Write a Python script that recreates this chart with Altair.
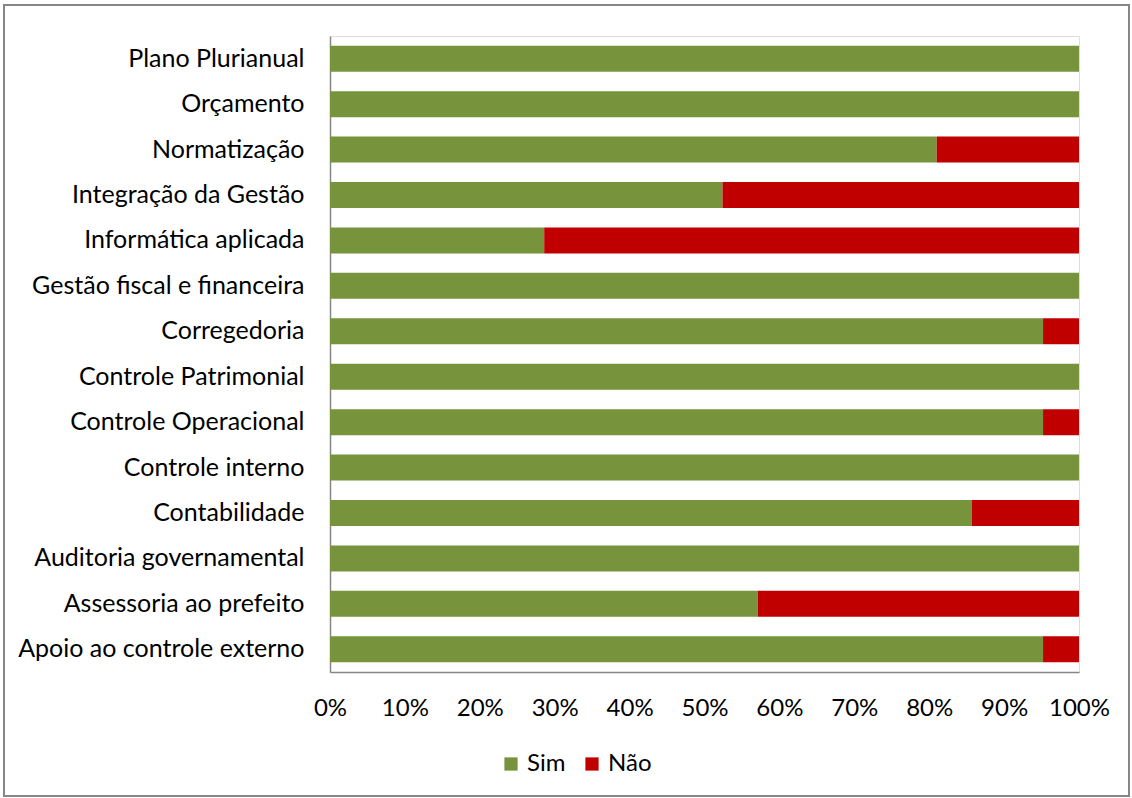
import altair as alt
import pandas as pd

categories = [
    "Plano Plurianual", "Orçamento", "Normatização", "Integração da Gestão",
    "Informática aplicada", "Gestão fiscal e financeira", "Corregedoria",
    "Controle Patrimonial", "Controle Operacional", "Controle interno",
    "Contabilidade", "Auditoria governamental", "Assessoria ao prefeito",
    "Apoio ao controle externo",
]
sim = [100.0, 100.0, 81.0, 52.4, 28.6, 100.0, 95.2, 100.0, 95.2, 100.0, 85.7, 100.0, 57.1, 95.2]
nao = [round(100 - s, 1) for s in sim]

rows = []
for c, s, n in zip(categories, sim, nao):
    rows.append({"cat": c, "resp": "Sim", "val": s, "ord": 0})
    rows.append({"cat": c, "resp": "Não", "val": n, "ord": 1})
df = pd.DataFrame(rows)

FONT = "Lato"
FS = 24

bars = alt.Chart(df).mark_bar(size=26).encode(
    y=alt.Y("cat:N", sort=categories, title=None,
            axis=alt.Axis(labelFontSize=25, labelFont=FONT, labelColor="#000000",
                          ticks=False, labelPadding=26, domainColor="#868686",
                          domainWidth=1.5, labelLimit=400)),
    x=alt.X("val:Q", stack="normalize", title=None,
            scale=alt.Scale(domain=[0, 1], nice=False),
            axis=alt.Axis(format="%", values=[i / 10 for i in range(11)],
                          labelFontSize=FS, labelFont=FONT, labelColor="#000000",
                          ticks=False, grid=False, labelPadding=24, labelFlush=False,
                          domainColor="#868686", domainWidth=1.5)),
    color=alt.Color("resp:N", sort=["Sim", "Não"],
                    scale=alt.Scale(domain=["Sim", "Não"], range=["#77933C", "#C00000"]),
                    legend=alt.Legend(title=None, orient="none", direction="horizontal",
                                      legendX=169, legendY=716, symbolType="square",
                                      symbolSize=175, symbolStrokeWidth=0,
                                      labelFontSize=FS, labelFont=FONT,
                                      labelColor="#000000", columnPadding=14,
                                      labelOffset=4)),
    order=alt.Order("ord:Q"),
)

frame = alt.Chart(pd.DataFrame({"a": [0]})).mark_rect(
    fill=None, stroke="#868686", strokeWidth=2, clip=False
).encode(
    x=alt.value(-326), x2=alt.value(799), y=alt.value(-31), y2=alt.value(760)
)

chart = alt.layer(frame, bars).properties(
    width=749, height=636,
    autosize=alt.AutoSizeParams(type="none"),
    padding={"left": 330, "top": 36, "right": 53, "bottom": 126},
).configure_view(stroke=None).configure(background="#ffffff")

chart.save("out.html", embed_options={"renderer": "svg", "actions": False})
